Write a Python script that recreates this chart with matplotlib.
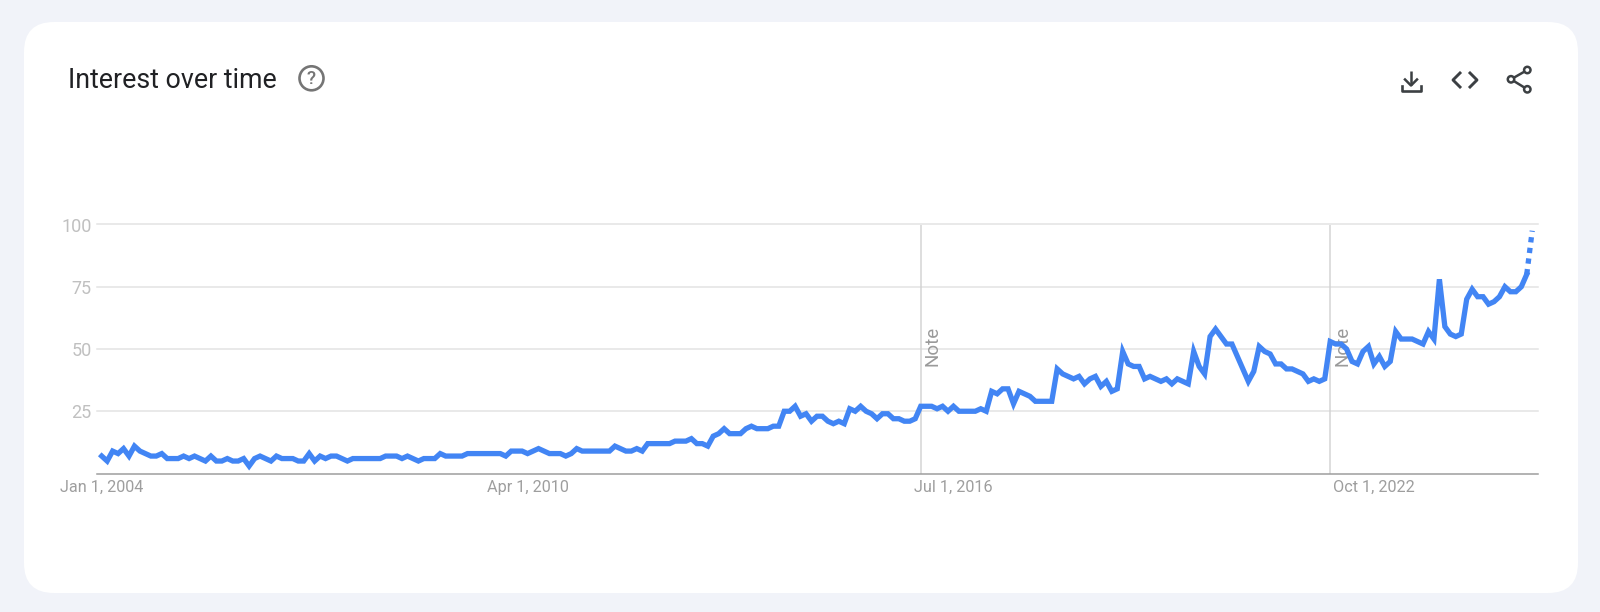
import matplotlib
matplotlib.use("Agg")
import matplotlib.pyplot as plt
from matplotlib.patches import FancyBboxPatch, Circle

title = "Interest over time"
y_ticks = [25, 50, 75, 100]
x_label_positions = [0, 78, 156, 233]
x_tick_labels = ["Jan 1, 2004", "Apr 1, 2010", "Jul 1, 2016", "Oct 1, 2022"]
note_positions = [150, 225]

interest_2004_2009 = [7,5,9,8,10,7,11,9,8,7,7,8,6,6,6,7,6,7,6,5,7,5,5,6,5,5,6,3,
                      6,7,6,5,7,6,6,6,5,5,8,5,7,6,7,7,6,5,6,6,6,6,6,6,7,7,7,6,7,6,5,6,6,6,
                      8,7,7,7,7,8,8,8,8,8,8,8]
interest_2010_2016 = [7,9,9,9,8,9,10,9,8,8,8,7,8,10,9,9,9,9,9,9,11,10,9,9,10,9,
                      12,12,12,12,12,13,13,13,14,12,12,11,15,16,18,16,16,16,18,19,18,18,18,19,19,
                      25,25,27,23,24,21,23,23,21,20,21,20,26,25,27,25,24,22,24,24,22,22,21,21,22,27]
interest_2016_2022 = [27,27,26,27,25,27,25,25,25,25,26,25,33,32,34,34,28,33,32,31,29,29,29,29,
                      42,40,39,38,39,36,38,39,35,37,33,34,49,44,43,43,38,39,38,37,38,36,38,37,36,
                      49,43,40,55,58,55,52,52,47,42,37,41,51,49,48,44,44,42,42,41,40,37,38,37,38]
interest_2022_2025 = [53,52,52,50,45,44,49,51,44,47,43,45,57,54,54,54,53,52,57,54,78,
                      59,56,55,56,70,74,71,71,68,69,71,75,73,73,75,80]
projection = [80, 97.5]

interest = interest_2004_2009 + interest_2010_2016 + interest_2016_2022 + interest_2022_2025
assert len(interest) == 262, len(interest)
months = list(range(len(interest)))
proj_months = [months[-1], months[-1] + 1]

W, H = 1600, 612
fig = plt.figure(figsize=(W / 100, H / 100), dpi=100, facecolor="#f1f3f9")
plt.rcParams["font.family"] = ["Roboto", "DejaVu Sans"]

# pixel-space overlay: card and header
bg = fig.add_axes([0, 0, 1, 1], zorder=0)
bg.set_xlim(0, W); bg.set_ylim(H, 0); bg.axis("off")
bg.add_patch(FancyBboxPatch((24 + 30, 22 + 30), 1554 - 60, 571 - 60,
                            boxstyle="round,pad=30,rounding_size=30",
                            fc="white", ec="none"))
bg.text(67.5, 80.5, title, fontsize=19.3, color="#202124", va="center", ha="left")

ic = "#3c4043"
bg.add_patch(Circle((311.5, 78.3), 12, fc="none", ec="#757575", lw=1.9))
bg.text(311.5, 78.6, "?", fontsize=13.5, color="#757575", ha="center", va="center", fontweight="medium")
# download
bg.plot([1411, 1411], [71, 85], color=ic, lw=1.8, solid_capstyle="butt")
bg.plot([1405, 1411, 1417], [79.5, 85.5, 79.5], color=ic, lw=1.8)
bg.plot([1402, 1402, 1420.5, 1420.5], [85.5, 90.5, 90.5, 85.5], color=ic, lw=1.9)
# embed
bg.plot([1460, 1453, 1460], [73, 80, 87], color=ic, lw=2.1)
bg.plot([1470, 1477, 1470], [73, 80, 87], color=ic, lw=2.1)
# share
nodes = [(1527.3, 70), (1511, 79.3), (1527.3, 89.3)]
bg.plot([nodes[0][0], nodes[1][0], nodes[2][0]], [nodes[0][1], nodes[1][1], nodes[2][1]], color=ic, lw=1.8)
for n in nodes:
    bg.add_patch(Circle(n, 3.2, fc="white", ec=ic, lw=1.8, zorder=3))

# data axes
ax_l, ax_r, ax_t, ax_b = 97, 1538, 224.5, 473.5
ax = fig.add_axes([ax_l / W, 1 - ax_b / H, (ax_r - ax_l) / W, (ax_b - ax_t) / H], zorder=1)
ax.patch.set_alpha(0)
ax.set_xlim((ax_l - 101.7) / 5.46, (ax_r - 101.7) / 5.46)
ax.set_ylim(0, 100)
for s in ["top", "left", "right"]:
    ax.spines[s].set_visible(False)
ax.spines["bottom"].set_color("#9e9e9e")
ax.spines["bottom"].set_linewidth(1.1)
ax.set_yticks(y_ticks)
ax.set_yticklabels([str(v) for v in y_ticks], fontsize=13, color="#c0c0c0")
ax.set_xticks(x_label_positions)
ax.set_xticklabels(x_tick_labels, fontsize=11.7, color="#9e9e9e")
ax.tick_params(axis="both", length=0)
ax.tick_params(axis="x", pad=4.5)
ax.tick_params(axis="y", pad=4)
ax.grid(axis="y", color="#e3e3e3", lw=1.1, clip_on=False)
ax.grid(axis="x", visible=False)
ax.set_axisbelow(True)

for p in note_positions:
    ax.axvline(p, color="#d4d4d4", lw=1.1, zorder=1)
    ax.text(p + 0.55, 43, "Note", rotation=90, fontsize=13.5, color="#9a9a9a", ha="left", va="bottom")

ax.plot(months, interest, color="#4285f4", lw=3.8, solid_joinstyle="miter", zorder=3, clip_on=False)
ax.plot(proj_months, projection, color="#4285f4", lw=3.8, linestyle=(0, (1, 1.03)), zorder=3, clip_on=False)

fig.savefig("out.png", dpi=100, facecolor=fig.get_facecolor())
